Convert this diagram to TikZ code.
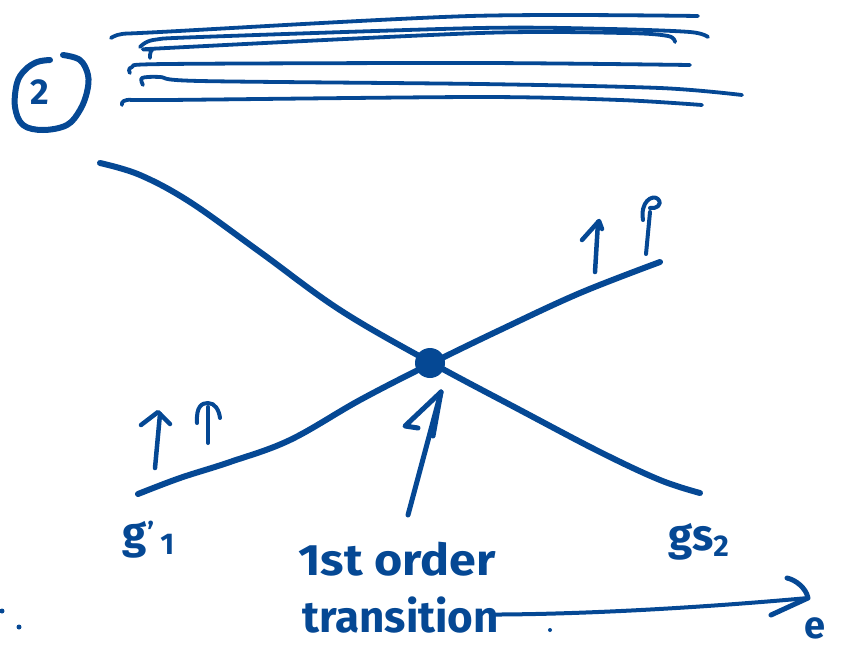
\documentclass[tikz,border=0pt]{standalone}
\usepackage{fontspec}
\setmainfont{Fira Sans}
\definecolor{ink}{RGB}{5,72,148}
\begin{document}
\begin{tikzpicture}[x=1pt,y=-1pt,line cap=round,line join=round,
  pen/.style={draw=ink,line width=6pt},
  thinpen/.style={draw=ink,line width=3.8pt},
  hand/.style={text=ink,font=\fontsize{44}{48}\selectfont\bfseries,inner sep=0pt},
  dotmark/.style={fill=ink}]
\useasboundingbox (0,0) rectangle (850,651);

% top scribbled lines
\draw[thinpen] plot[smooth,tension=0.5] coordinates {(111,38) (122,34) (160,32) (470,16) (698,16)};
\draw[thinpen] plot[smooth,tension=0.5] coordinates {(140,47) (153,40) (200,37) (480,28) (610,29) (690,32) (708,37)};
\draw[thinpen] plot[smooth,tension=0.5] coordinates {(150,58) (152,50) (167,48) (480,33) (625,33) (668,36) (675,42)};
\draw[thinpen] plot[smooth,tension=0.5] coordinates {(130,73) (132,67) (167,64) (480,63) (690,65)};
\draw[thinpen] plot[smooth,tension=0.5] coordinates {(143,85) (142,78) (160,77) (200,81) (480,84) (660,88) (742,95)};
\draw[thinpen] plot[smooth,tension=0.5] coordinates {(122,105) (127,100) (167,100) (480,97) (620,100) (702,105)};

% circled 2
\node[hand,font=\fontsize{36}{38}\selectfont\bfseries] (num) at (40,92) {2};
\draw[pen,line width=6pt] plot[smooth,tension=0.6] coordinates {(63,55) (80,60) (88,75) (87,92) (80,110) (67,125) (43,130) (23,125) (15,107) (17,83) (25,70) (37,62) (50,60)};

% the two crossing curves
\draw[pen] plot[smooth,tension=0.6] coordinates {(100,163) (140,175) (190,202) (260,252) (340,310) (430,362) (520,410) (600,452) (660,480) (700,493)};
\draw[pen] plot[smooth,tension=0.6] coordinates {(138,494) (180,478) (230,462) (290,440) (360,400) (430,364) (500,330) (580,293) (660,262)};
\node[circle,fill=ink,minimum size=30pt,inner sep=0pt] (tr) at (430,363) {};

% small spin arrows
\draw[pen,line width=4.5pt] (155,468) -- (160,414);
\draw[pen,line width=4.5pt] (141,425) -- (158,412) -- (170,424);
\draw[pen,line width=4pt] (208,443) -- (208,407);
\draw[pen,line width=4pt] (197,423) .. controls (196,406) and (202,403) .. (208,403) .. controls (215,403) and (219,410) .. (220,418);
\draw[pen,line width=4.5pt] (595,272) -- (598,222);
\draw[pen,line width=4.5pt] (582,240) -- (599,221) -- (602,229);
\draw[pen,line width=4pt] (646,254) -- (650,212);
\draw[pen,line width=4pt] (643,220) .. controls (640,202) and (652,194) .. (658,199) .. controls (663,205) and (656,209) .. (650,208);

% labels
\node[hand,anchor=base west] (g1) at (122,548) {g\kern1pt\raisebox{6pt}{\fontsize{28}{28}\selectfont\bfseries\char`'}\kern6pt\raisebox{-6pt}{\fontsize{30}{30}\selectfont\bfseries 1}};
\node[hand,anchor=base west] (g2) at (668,550) {gs\raisebox{-6pt}{\fontsize{30}{30}\selectfont\bfseries 2}};
\node[hand,anchor=base west,xscale=1.1] (l1) at (298,575) {1st order};
\node[hand,anchor=base west] (l2) at (302,632) {transition};
\node[hand,anchor=base west,font=\fontsize{38}{40}\selectfont\bfseries] (e) at (804,638) {e};

% arrow to the transition point
\coordinate (tail) at (408,515);
\coordinate (tip) at (441,392);
\draw[pen,line width=5pt] (tail) -- (tip);
\draw[pen,line width=5pt] (tip) -- (405,426) -- (418,428);
\draw[pen,line width=5pt] (tip) -- (433,436);

% long horizontal arrow
\coordinate (he) at (808,598);
\draw[pen,line width=4pt] ([xshift=-4pt]l2.east) .. controls (600,614) and (720,606) .. (he);
\draw[pen,line width=5pt] (771,615) -- (he) .. controls (806,588) and (796,580) .. (787,578);

% stray dots
\fill[dotmark] (2,611) circle (2.5pt);
\fill[dotmark] (19,627) circle (2.5pt);
\fill[dotmark] (550,630) circle (2pt);
\end{tikzpicture}
\end{document}
